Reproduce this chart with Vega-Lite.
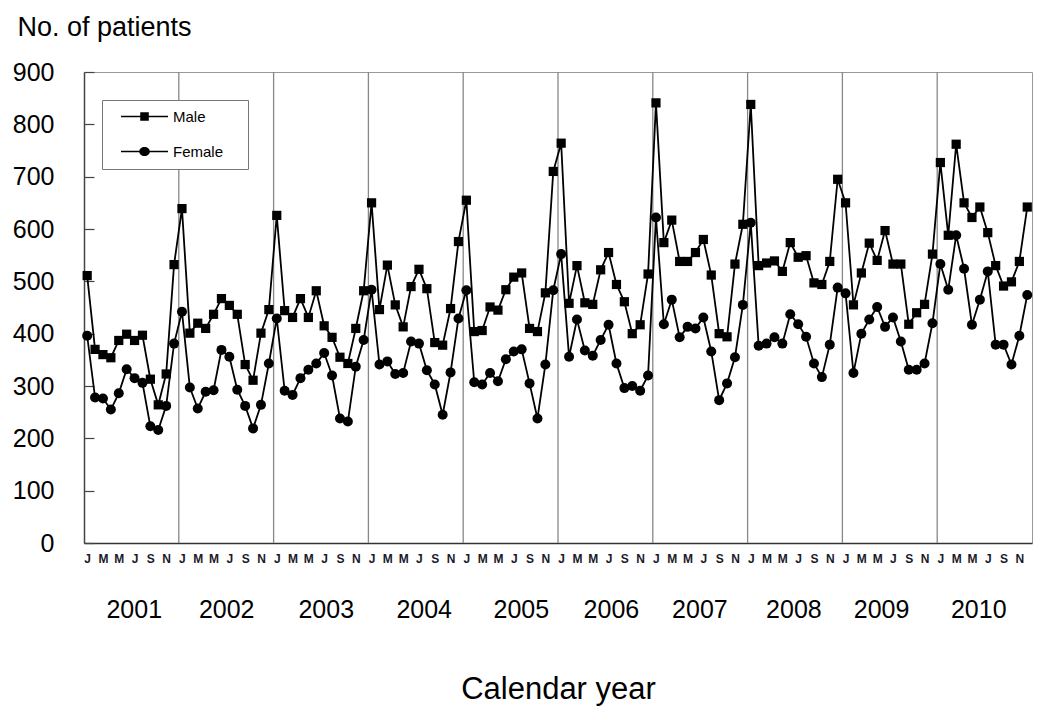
{
  "$schema": "https://vega.github.io/schema/vega-lite/v6.json",
  "width": 948,
  "height": 471,
  "autosize": {"type": "none"},
  "padding": {"left": 84, "top": 72, "right": 8, "bottom": 170},
  "background": "white",
  "config": {
    "font": "Liberation Sans",
    "view": {"stroke": "#999", "strokeWidth": 1}
  },
  "datasets": {
    "series": [
      {"t": 0, "Male": 511, "Female": 396}, {"t": 1, "Male": 370, "Female": 278}, {"t": 2, "Male": 360, "Female": 276}, {"t": 3, "Male": 354, "Female": 255}, {"t": 4, "Male": 387, "Female": 286}, {"t": 5, "Male": 399, "Female": 332}, {"t": 6, "Male": 387, "Female": 315}, {"t": 7, "Male": 397, "Female": 306}, {"t": 8, "Male": 313, "Female": 223}, {"t": 9, "Male": 264, "Female": 216}, {"t": 10, "Male": 323, "Female": 262}, {"t": 11, "Male": 532, "Female": 381},
      {"t": 12, "Male": 639, "Female": 442}, {"t": 13, "Male": 401, "Female": 297}, {"t": 14, "Male": 420, "Female": 257}, {"t": 15, "Male": 410, "Female": 289}, {"t": 16, "Male": 437, "Female": 292}, {"t": 17, "Male": 467, "Female": 369}, {"t": 18, "Male": 454, "Female": 356}, {"t": 19, "Male": 437, "Female": 293}, {"t": 20, "Male": 341, "Female": 262}, {"t": 21, "Male": 311, "Female": 219}, {"t": 22, "Male": 401, "Female": 264}, {"t": 23, "Male": 446, "Female": 343},
      {"t": 24, "Male": 626, "Female": 429}, {"t": 25, "Male": 444, "Female": 291}, {"t": 26, "Male": 431, "Female": 283}, {"t": 27, "Male": 467, "Female": 315}, {"t": 28, "Male": 431, "Female": 331}, {"t": 29, "Male": 482, "Female": 343}, {"t": 30, "Male": 415, "Female": 363}, {"t": 31, "Male": 393, "Female": 320}, {"t": 32, "Male": 355, "Female": 238}, {"t": 33, "Male": 343, "Female": 232}, {"t": 34, "Male": 410, "Female": 337}, {"t": 35, "Male": 482, "Female": 388},
      {"t": 36, "Male": 650, "Female": 484}, {"t": 37, "Male": 446, "Female": 341}, {"t": 38, "Male": 531, "Female": 347}, {"t": 39, "Male": 455, "Female": 323}, {"t": 40, "Male": 413, "Female": 325}, {"t": 41, "Male": 490, "Female": 385}, {"t": 42, "Male": 523, "Female": 381}, {"t": 43, "Male": 486, "Female": 330}, {"t": 44, "Male": 383, "Female": 303}, {"t": 45, "Male": 378, "Female": 245}, {"t": 46, "Male": 448, "Female": 326}, {"t": 47, "Male": 576, "Female": 429},
      {"t": 48, "Male": 655, "Female": 483}, {"t": 49, "Male": 404, "Female": 307}, {"t": 50, "Male": 406, "Female": 303}, {"t": 51, "Male": 451, "Female": 325}, {"t": 52, "Male": 445, "Female": 309}, {"t": 53, "Male": 484, "Female": 351}, {"t": 54, "Male": 508, "Female": 366}, {"t": 55, "Male": 516, "Female": 370}, {"t": 56, "Male": 410, "Female": 305}, {"t": 57, "Male": 404, "Female": 238}, {"t": 58, "Male": 478, "Female": 341}, {"t": 59, "Male": 710, "Female": 483},
      {"t": 60, "Male": 764, "Female": 552}, {"t": 61, "Male": 458, "Female": 356}, {"t": 62, "Male": 530, "Female": 427}, {"t": 63, "Male": 459, "Female": 368}, {"t": 64, "Male": 456, "Female": 358}, {"t": 65, "Male": 522, "Female": 388}, {"t": 66, "Male": 555, "Female": 417}, {"t": 67, "Male": 494, "Female": 343}, {"t": 68, "Male": 461, "Female": 296}, {"t": 69, "Male": 400, "Female": 300}, {"t": 70, "Male": 417, "Female": 291}, {"t": 71, "Male": 514, "Female": 320},
      {"t": 72, "Male": 841, "Female": 622}, {"t": 73, "Male": 574, "Female": 418}, {"t": 74, "Male": 617, "Female": 465}, {"t": 75, "Male": 538, "Female": 393}, {"t": 76, "Male": 538, "Female": 413}, {"t": 77, "Male": 555, "Female": 410}, {"t": 78, "Male": 580, "Female": 431}, {"t": 79, "Male": 512, "Female": 366}, {"t": 80, "Male": 400, "Female": 273}, {"t": 81, "Male": 394, "Female": 305}, {"t": 82, "Male": 533, "Female": 355}, {"t": 83, "Male": 609, "Female": 455},
      {"t": 84, "Male": 838, "Female": 612}, {"t": 85, "Male": 530, "Female": 377}, {"t": 86, "Male": 535, "Female": 381}, {"t": 87, "Male": 539, "Female": 393}, {"t": 88, "Male": 519, "Female": 381}, {"t": 89, "Male": 574, "Female": 437}, {"t": 90, "Male": 546, "Female": 418}, {"t": 91, "Male": 549, "Female": 394}, {"t": 92, "Male": 497, "Female": 343}, {"t": 93, "Male": 494, "Female": 317}, {"t": 94, "Male": 538, "Female": 379}, {"t": 95, "Male": 695, "Female": 488},
      {"t": 96, "Male": 650, "Female": 477}, {"t": 97, "Male": 455, "Female": 325}, {"t": 98, "Male": 516, "Female": 400}, {"t": 99, "Male": 573, "Female": 427}, {"t": 100, "Male": 540, "Female": 451}, {"t": 101, "Male": 597, "Female": 413}, {"t": 102, "Male": 533, "Female": 431}, {"t": 103, "Male": 533, "Female": 385}, {"t": 104, "Male": 418, "Female": 331}, {"t": 105, "Male": 440, "Female": 331}, {"t": 106, "Male": 456, "Female": 343}, {"t": 107, "Male": 552, "Female": 420},
      {"t": 108, "Male": 727, "Female": 533}, {"t": 109, "Male": 588, "Female": 484}, {"t": 110, "Male": 762, "Female": 588}, {"t": 111, "Male": 650, "Female": 524}, {"t": 112, "Male": 622, "Female": 417}, {"t": 113, "Male": 642, "Female": 465}, {"t": 114, "Male": 593, "Female": 519}, {"t": 115, "Male": 530, "Female": 379}, {"t": 116, "Male": 491, "Female": 379}, {"t": 117, "Male": 499, "Female": 341}, {"t": 118, "Male": 538, "Female": 396}, {"t": 119, "Male": 642, "Female": 474}
    ],
    "yearlines": [
      {"b": 11.6}, {"b": 23.6}, {"b": 35.6}, {"b": 47.6}, {"b": 59.6}, {"b": 71.6}, {"b": 83.6}, {"b": 95.6}, {"b": 107.6}
    ]
  },
  "layer": [
    {
      "data": {"name": "yearlines"},
      "mark": {"type": "rule", "color": "#888", "strokeWidth": 1.3},
      "encoding": {
        "x": {
          "field": "b", "type": "quantitative",
          "scale": {"domain": [-0.4, 119.6], "nice": false, "zero": false},
          "axis": {
            "orient": "bottom",
            "values": [5.9, 17.6, 30.2, 42.6, 54.9, 66.3, 77.5, 89.4, 100.5, 112.8],
            "labelExpr": "'' + (2001 + floor(datum.value / 12))",
            "ticks": false, "domain": false, "grid": false,
            "labelFontSize": 25, "labelColor": "black", "labelPadding": 54,
            "labelFlush": false, "labelOverlap": false, "labelAngle": 0,
            "title": null
          }
        }
      }
    },
    {
      "data": {"name": "series"},
      "mark": {"type": "line", "color": "black", "strokeWidth": 1.8,
               "point": {"shape": "square", "size": 85, "filled": true, "color": "black"}},
      "encoding": {
        "x": {
          "field": "t", "type": "quantitative",
          "scale": {"domain": [-0.4, 119.6], "nice": false, "zero": false},
          "axis": {
            "orient": "bottom",
            "values": [0,2,4,6,8,10,12,14,16,18,20,22,24,26,28,30,32,34,36,38,40,42,44,46,48,50,52,54,56,58,60,62,64,66,68,70,72,74,76,78,80,82,84,86,88,90,92,94,96,98,100,102,104,106,108,110,112,114,116,118],
            "labelExpr": "['J','M','M','J','S','N'][(datum.value % 12) / 2]",
            "ticks": false, "grid": false,
            "domain": true, "domainColor": "#333", "domainWidth": 1.5,
            "labelFontSize": 12, "labelFontWeight": "bold", "labelColor": "#1a1a2a",
            "labelPadding": 10, "labelAngle": 0, "labelOverlap": false, "labelFlush": false,
            "title": "Calendar year", "titleFontSize": 31, "titleFontWeight": "normal",
            "titleColor": "black", "titleY": 155, "titleBaseline": "alphabetic"
          }
        },
        "y": {
          "field": "Male", "type": "quantitative",
          "scale": {"domain": [0, 900], "nice": false},
          "axis": {
            "values": [0,100,200,300,400,500,600,700,800,900],
            "grid": false, "tickSize": -10, "tickColor": "#444", "tickWidth": 1.2,
            "domainColor": "#444", "domainWidth": 1.5,
            "labelFontSize": 25, "labelColor": "black", "labelPadding": 40,
            "title": "No. of patients", "titleAngle": 0, "titleAlign": "left",
            "titleBaseline": "alphabetic", "titleX": -67, "titleY": -37,
            "titleFontSize": 27, "titleFontWeight": "normal", "titleColor": "black"
          }
        }
      }
    },
    {
      "data": {"name": "series"},
      "mark": {"type": "line", "color": "black", "strokeWidth": 1.8,
               "point": {"shape": "circle", "size": 100, "filled": true, "color": "black"}},
      "encoding": {
        "x": {
          "field": "t", "type": "quantitative",
          "scale": {"domain": [-0.4, 119.6], "nice": false, "zero": false},
          "axis": null
        },
        "y": {
          "field": "Female", "type": "quantitative",
          "scale": {"domain": [0, 900], "nice": false},
          "axis": {
            "values": [0,100,200,300,400,500,600,700,800,900],
            "grid": false, "tickSize": -10, "tickColor": "#444", "tickWidth": 1.2,
            "domainColor": "#444", "domainWidth": 1.5,
            "labelFontSize": 25, "labelColor": "black", "labelPadding": 40,
            "title": "No. of patients", "titleAngle": 0, "titleAlign": "left",
            "titleBaseline": "alphabetic", "titleX": -67, "titleY": -37,
            "titleFontSize": 27, "titleFontWeight": "normal", "titleColor": "black"
          }
        }
      }
    },
    {
      "data": {"values": [{"sex": "Male"}, {"sex": "Female"}]},
      "mark": {"type": "point", "opacity": 0, "filled": true, "color": "black"},
      "encoding": {
        "shape": {
          "field": "sex", "type": "nominal",
          "scale": {
            "domain": ["Male", "Female"],
            "range": [
              "M0.33,-0.1H6.6V0.1H0.33ZM2.9,-0.57H4.04V0.57H2.9Z",
              "M0.33,-0.1H6.6V0.1H0.33ZM4.18,0A0.71,0.61,0,1,1,2.76,0A0.71,0.61,0,1,1,4.18,0Z"
            ]
          },
          "legend": {
            "title": "\u00a0", "titleOrient": "right", "titlePadding": 16, "titleFontSize": 15,
            "orient": "none", "legendX": 18, "legendY": 28,
            "padding": 9, "strokeColor": "#777", "fillColor": "white",
            "symbolSize": 225, "symbolFillColor": "black", "symbolStrokeColor": "black",
            "symbolStrokeWidth": 0, "symbolOpacity": 1,
            "rowPadding": 19, "labelOffset": 47, "labelFontSize": 15, "labelColor": "black"
          }
        }
      }
    }
  ],
  "resolve": {"axis": {"x": "independent"}, "scale": {"shape": "independent"}}
}
